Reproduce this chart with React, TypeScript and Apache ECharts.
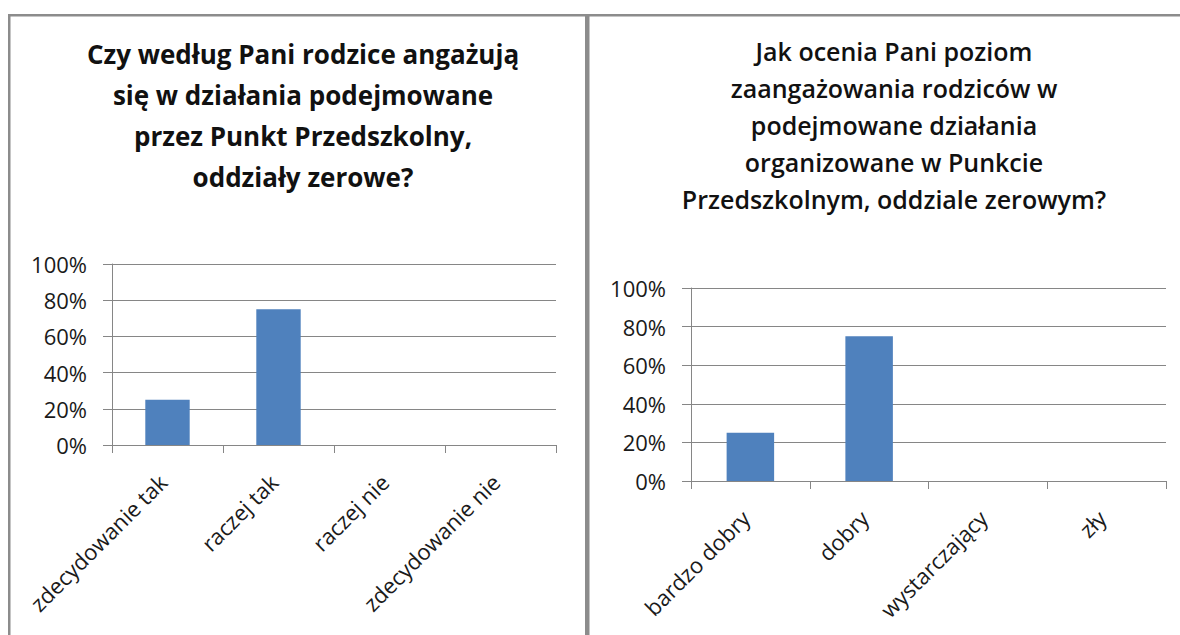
import React, { useEffect, useRef } from "react";
import * as echarts from "echarts";

const leftTitle = "Czy według Pani rodzice angażują\nsię w działania podejmowane\nprzez Punkt Przedszkolny,\noddziały zerowe?";
const rightTitle = "Jak ocenia Pani poziom\nzaangażowania rodziców w\npodejmowane działania\norganizowane w Punkcie\nPrzedszkolnym, oddziale zerowym?";

const leftCategories = ["zdecydowanie tak", "raczej tak", "raczej nie", "zdecydowanie nie"];
const leftValues = [0.25, 0.75, 0, 0];

const rightCategories = ["bardzo dobry", "dobry", "wystarczający", "zły"];
const rightValues = [0.25, 0.75, 0, 0];

const FONT = "'Open Sans', sans-serif";
const GRAY = "#868686";
const BORDER = "#8c8c8c";
const BAR = "#4f81bd";

function yAxisFor(gridIndex: number) {
  return {
    type: "value",
    gridIndex,
    min: 0,
    max: 1,
    interval: 0.2,
    axisLine: { show: true, lineStyle: { color: GRAY, width: 1 } },
    axisTick: { show: true, length: 9, lineStyle: { color: GRAY } },
    splitLine: { show: true, lineStyle: { color: GRAY, width: 1 } },
    axisLabel: {
      formatter: (v: number) => Math.round(v * 100) + "%",
      fontFamily: FONT,
      fontSize: 22,
      color: "#1a1a1a",
      margin: 25,
    },
  };
}

function xAxisFor(gridIndex: number, data: string[]) {
  return {
    type: "category",
    gridIndex,
    data,
    axisLine: { show: true, lineStyle: { color: GRAY, width: 1 } },
    axisTick: { show: true, length: 8, interval: 0, lineStyle: { color: GRAY } },
    axisLabel: {
      interval: 0,
      rotate: 45,
      fontFamily: FONT,
      fontSize: 22,
      color: "#1a1a1a",
      margin: 28,
      padding: [0, 7, 14, 0],
    },
  };
}

export default function App() {
  const ref = useRef<HTMLDivElement>(null);
  useEffect(() => {
    if (!ref.current) return;
    const chart = echarts.init(ref.current, null, { renderer: "svg" });
    chart.setOption({
      animation: false,
      backgroundColor: "#ffffff",
      title: [
        {
          text: leftTitle,
          left: 298,
          top: 28,
          textAlign: "center",
          textStyle: {
            fontFamily: FONT,
            fontSize: 26,
            fontWeight: "bold",
            color: "#111",
            lineHeight: 41,
            align: "center",
          },
        },
        {
          text: rightTitle,
          left: 889,
          top: 27,
          textAlign: "center",
          textStyle: {
            fontFamily: FONT,
            fontSize: 25,
            fontWeight: 600,
            color: "#111",
            lineHeight: 37,
            align: "center",
          },
        },
      ],
      grid: [
        { left: 112, right: 1180 - 556, top: 264, height: 181 },
        { left: 691, right: 1180 - 1166, top: 288, height: 193 },
      ],
      xAxis: [xAxisFor(0, leftCategories), xAxisFor(1, rightCategories)],
      yAxis: [yAxisFor(0), yAxisFor(1)],
      series: [
        {
          type: "bar",
          xAxisIndex: 0,
          yAxisIndex: 0,
          data: leftValues,
          barWidth: "40%",
          itemStyle: { color: BAR },
        },
        {
          type: "bar",
          xAxisIndex: 1,
          yAxisIndex: 1,
          data: rightValues,
          barWidth: "40%",
          itemStyle: { color: BAR },
        },
      ],
      graphic: [
        { type: "rect", shape: { x: 8, y: 14, width: 1172, height: 2.5 }, style: { fill: BORDER } },
        { type: "rect", shape: { x: 8, y: 14, width: 2.5, height: 621 }, style: { fill: BORDER } },
        { type: "rect", shape: { x: 585, y: 14, width: 4.5, height: 621 }, style: { fill: BORDER } },
      ],
    });
    return () => chart.dispose();
  }, []);
  return (
    <div
      ref={ref}
      style={{ position: "fixed", left: 0, top: 0, width: 1180, height: 635 }}
    />
  );
}
